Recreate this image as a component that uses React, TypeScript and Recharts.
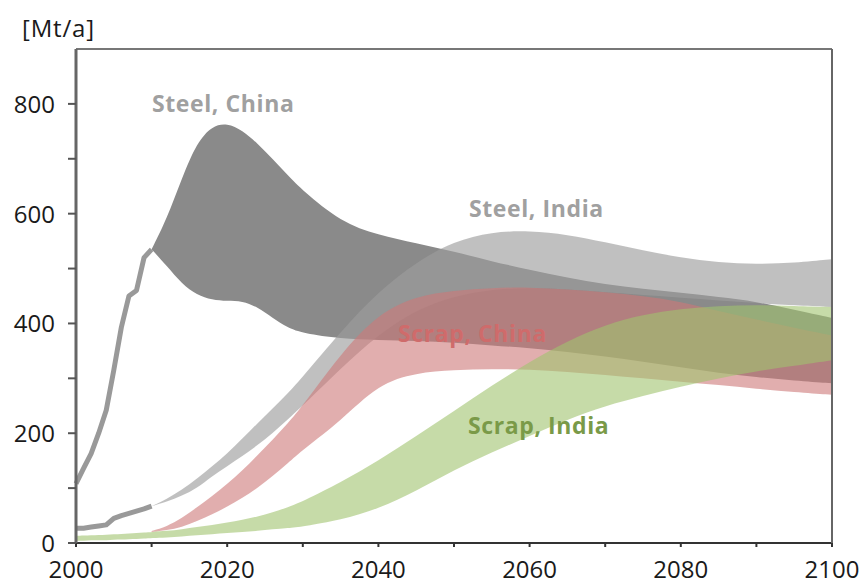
import React from "react";
import { ComposedChart, Area, Line, XAxis, YAxis, ReferenceLine } from "recharts";

const N = null;
const years = [2000, 2001, 2002, 2003, 2004, 2005, 2006, 2007, 2008, 2009, 2010, 2012, 2014, 2016, 2018, 2020, 2022, 2024, 2026, 2028, 2030, 2035, 2040, 2045, 2050, 2055, 2060, 2065, 2070, 2075, 2080, 2085, 2090, 2095, 2100];

const steelChinaHist = [108, 136, 163, 200, 242, 315, 393, 450, 460, 520, 535, N, N, N, N, N, N, N, N, N, N, N, N, N, N, N, N, N, N, N, N, N, N, N, N];
const steelIndiaHist = [27, 27, 29, 31, 33, 45, 50, 54, 58, 62, 67, N, N, N, N, N, N, N, N, N, N, N, N, N, N, N, N, N, N, N, N, N, N, N, N];

const steelChinaHi = [N, N, N, N, N, N, N, N, N, N, 535, 590, 665, 730, 760, 765, 752, 728, 700, 670, 642, 585, 561, 546, 531, 513, 498, 483, 471, 463, 456, 448, 440, 425, 410];
const steelChinaLo = [N, N, N, N, N, N, N, N, N, N, 535, 505, 472, 452, 443, 441, 441, 430, 410, 392, 382, 372, 370, 368, 365, 360, 355, 348, 340, 330, 320, 310, 302, 296, 291];
const steelIndiaHi = [N, N, N, N, N, N, N, N, N, N, 67, 80, 97, 117, 140, 163, 190, 218, 245, 272, 303, 385, 458, 512, 550, 567, 569, 562, 548, 533, 520, 511, 508, 510, 517];
const steelIndiaLo = [N, N, N, N, N, N, N, N, N, N, 67, 75, 86, 100, 122, 140, 158, 178, 200, 225, 250, 318, 380, 425, 450, 462, 465, 462, 457, 452, 447, 442, 437, 433, 430];
const scrapChinaHi = [N, N, N, N, N, N, N, N, N, N, 22, 30, 45, 65, 85, 108, 132, 160, 188, 218, 250, 345, 418, 450, 460, 465, 466, 462, 457, 450, 440, 422, 407, 392, 378];
const scrapChinaLo = [N, N, N, N, N, N, N, N, N, N, 20, 23, 29, 40, 52, 66, 82, 100, 122, 145, 170, 222, 290, 310, 315, 317, 316, 312, 306, 300, 294, 288, 281, 275, 270];
const scrapIndiaHi = [13, 13.5, 14, 14.5, 15, 16, 16.5, 17, 18, 19, 20, 22, 25, 29, 33, 37, 42, 48, 56, 65, 76, 110, 150, 195, 240, 287, 330, 368, 398, 416, 427, 432, 434, 432, 430];
const scrapIndiaLo = [4, 4, 5, 5, 5, 6, 6, 7, 7, 8, 9, 10, 12, 14, 16, 18, 20, 22, 25, 27, 30, 42, 62, 95, 133, 165, 195, 225, 250, 268, 285, 300, 313, 323, 333];

const xTicks = [2000, 2010, 2020, 2030, 2040, 2050, 2060, 2070, 2080, 2090, 2100];
const xLabels = [2000, 2020, 2040, 2060, 2080, 2100];
const yTicks = [0, 100, 200, 300, 400, 500, 600, 700, 800];
const yLabels = [0, 200, 400, 600, 800];

const range = (lo: (number | null)[], hi: (number | null)[], i: number) =>
  lo[i] == null || hi[i] == null ? null : [lo[i], hi[i]];

const data = years.map((year, i) => ({
  year,
  chinaHist: steelChinaHist[i],
  indiaHist: steelIndiaHist[i],
  steelChina: range(steelChinaLo, steelChinaHi, i),
  steelIndia: range(steelIndiaLo, steelIndiaHi, i),
  scrapChina: range(scrapChinaLo, scrapChinaHi, i),
  scrapIndia: range(scrapIndiaLo, scrapIndiaHi, i),
}));

const FONT = "'Open Sans', sans-serif";

const LeftTick = (props: any) => {
  const { x, y, payload } = props;
  const v = payload.value;
  return (
    <g>
      <line x1={x - 8} x2={x} y1={y} y2={y} stroke="#555" strokeWidth={2} />
      {yLabels.includes(v) && (
        <text x={x - 21} y={y + 9} textAnchor="end" fontFamily={FONT} fontSize={24} fill="#1a1a1a">
          {v}
        </text>
      )}
    </g>
  );
};

const RightTick = (props: any) => {
  const { x, y } = props;
  return <line x1={x} x2={x + 6} y1={y} y2={y} stroke="#555" strokeWidth={2} />;
};

const BottomTick = (props: any) => {
  const { x, y, payload } = props;
  const v = payload.value;
  return (
    <g>
      <line x1={x} x2={x} y1={y} y2={y + 4} stroke="#333" strokeWidth={2} />
      {xLabels.includes(v) && (
        <text x={x} y={y + 35} textAnchor="middle" fontFamily={FONT} fontSize={24} fill="#1a1a1a">
          {v}
        </text>
      )}
    </g>
  );
};

const labelStyle = (left: number, top: number, color: string): React.CSSProperties => ({
  position: "absolute",
  left,
  top,
  fontFamily: FONT,
  fontWeight: 700,
  fontSize: 23,
  letterSpacing: 0.6,
  color,
  whiteSpace: "nowrap",
  lineHeight: "30px",
});

export default function App() {
  return (
    <div style={{ position: "absolute", left: 0, top: 0, width: 866, height: 586, background: "#fff" }}>
      <ComposedChart width={866} height={586} data={data} margin={{ top: 49, right: 0, bottom: 0, left: 0 }}>
        <XAxis
          dataKey="year"
          type="number"
          domain={[2000, 2100]}
          ticks={xTicks}
          height={43}
          tickSize={0}
          tickMargin={0}
          tickLine={false}
          tick={<BottomTick />}
          axisLine={{ stroke: "#333", strokeWidth: 2 }}
          interval={0}
        />
        <YAxis
          yAxisId="left"
          domain={[0, 900]}
          ticks={yTicks}
          width={76}
          tickSize={0}
          tickMargin={0}
          tickLine={false}
          tick={<LeftTick />}
          axisLine={{ stroke: "#666", strokeWidth: 3 }}
          interval={0}
        />
        <YAxis
          yAxisId="right"
          orientation="right"
          domain={[0, 900]}
          ticks={yTicks.slice(1)}
          width={34}
          tickSize={0}
          tickMargin={0}
          tickLine={false}
          tick={<RightTick />}
          axisLine={{ stroke: "#666", strokeWidth: 2 }}
          interval={0}
        />
        <ReferenceLine yAxisId="left" y={900} stroke="#777" strokeWidth={2} />
        <Area yAxisId="left" dataKey="steelChina" type="basis" stroke="none" fill="#8a8a8a" fillOpacity={1} isAnimationActive={false} />
        <Area yAxisId="left" dataKey="steelIndia" type="basis" stroke="none" fill="rgb(156,156,156)" fillOpacity={0.64} isAnimationActive={false} />
        <Area yAxisId="left" dataKey="scrapChina" type="basis" stroke="none" fill="rgb(205,120,120)" fillOpacity={0.6} isAnimationActive={false} />
        <Area yAxisId="left" dataKey="scrapIndia" type="basis" stroke="none" fill="rgb(160,195,110)" fillOpacity={0.6} isAnimationActive={false} />
        <Line yAxisId="left" dataKey="chinaHist" type="linear" stroke="#999" strokeWidth={5} dot={false} strokeLinejoin="round" isAnimationActive={false} />
        <Line yAxisId="left" dataKey="indiaHist" type="linear" stroke="#999" strokeWidth={5} dot={false} strokeLinejoin="round" isAnimationActive={false} />
      </ComposedChart>
      <div style={{ position: "absolute", left: 22, top: 13, fontFamily: FONT, fontSize: 24, letterSpacing: 0.8, color: "#1a1a1a", lineHeight: "30px" }}>[Mt/a]</div>
      <div style={labelStyle(152, 88, "#a0a0a0")}>Steel, China</div>
      <div style={labelStyle(469, 193, "#a0a0a0")}>Steel, India</div>
      <div style={labelStyle(398, 318, "#cf6b6b")}>Scrap, China</div>
      <div style={labelStyle(468, 410, "#7a9a48")}>Scrap, India</div>
    </div>
  );
}
